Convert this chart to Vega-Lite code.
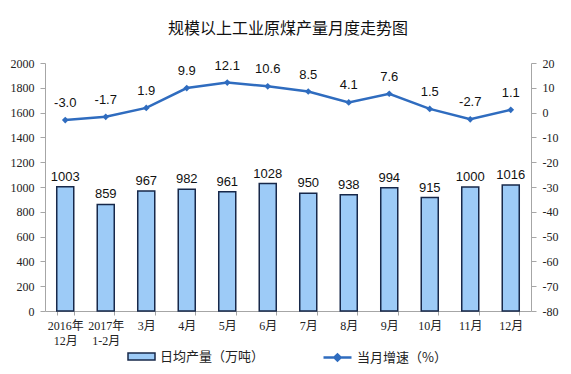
{
  "$schema": "https://vega.github.io/schema/vega-lite/v6.json",
  "width": 486,
  "height": 248,
  "autosize": {"type": "none"},
  "padding": {"left": 45, "top": 63, "right": 40, "bottom": 63},
  "background": "white",
  "title": {
    "text": "规模以上工业原煤产量月度走势图",
    "font": "Noto Sans CJK SC",
    "fontSize": 16,
    "fontWeight": "normal",
    "color": "#111111",
    "anchor": "middle",
    "offset": 20
  },
  "config": {
    "view": {"stroke": null},
    "axis": {
      "grid": false,
      "domainColor": "#a6a6a6",
      "tickColor": "#a6a6a6",
      "labelFont": "Liberation Serif",
      "labelFontSize": 12,
      "labelColor": "#222222",
      "titleFontSize": 0
    }
  },
  "data": {
    "values": [
      {"month": "2016年|12月", "output": 1003, "growth": -3.0},
      {"month": "2017年|1-2月", "output": 859, "growth": -1.7},
      {"month": "3月", "output": 967, "growth": 1.9},
      {"month": "4月", "output": 982, "growth": 9.9},
      {"month": "5月", "output": 961, "growth": 12.1},
      {"month": "6月", "output": 1028, "growth": 10.6},
      {"month": "7月", "output": 950, "growth": 8.5},
      {"month": "8月", "output": 938, "growth": 4.1},
      {"month": "9月", "output": 994, "growth": 7.6},
      {"month": "10月", "output": 915, "growth": 1.5},
      {"month": "11月", "output": 1000, "growth": -2.7},
      {"month": "12月", "output": 1016, "growth": 1.1}
    ]
  },
  "encoding": {
    "x": {
      "field": "month",
      "type": "nominal",
      "sort": null,
      "scale": {"paddingInner": 0.58, "paddingOuter": 0.29},
      "axis": {
        "title": null,
        "labelAngle": 0,
        "labelExpr": "split(datum.label, '|')",
        "labelLineHeight": 15,
        "labelPadding": 5,
        "tickBand": "extent",
        "tickSize": 4,
        "labelFont": "Liberation Serif, Noto Sans CJK SC"
      }
    }
  },
  "layer": [
    {
      "mark": {"type": "bar", "stroke": "#17284a", "strokeWidth": 1.5},
      "encoding": {
        "y": {
          "field": "output",
          "type": "quantitative",
          "scale": {"domain": [0, 2000], "nice": false},
          "axis": {"title": null, "values": [0,200,400,600,800,1000,1200,1400,1600,1800,2000], "format": "d", "tickSize": 5, "labelPadding": 6}
        },
        "fill": {
          "datum": "日均产量（万吨）",
          "type": "nominal",
          "scale": {"range": ["#9dcbf7"]},
          "legend": {
            "title": null,
            "orient": "none",
            "legendX": 82,
            "legendY": 279,
            "symbolType": "M-1,-0.26H1V0.26H-1Z",
            "symbolSize": 729,
            "symbolStrokeColor": "#17284a",
            "symbolStrokeWidth": 1.5,
            "labelFont": "Noto Sans CJK SC",
            "labelFontSize": 13,
            "labelColor": "#222222"
          }
        }
      }
    },
    {
      "mark": {"type": "text", "baseline": "bottom", "dy": -3, "font": "Liberation Sans", "fontSize": 13, "color": "#111111"},
      "encoding": {
        "y": {"field": "output", "type": "quantitative", "scale": {"domain": [0, 2000], "nice": false}, "axis": null},
        "text": {"field": "output", "type": "quantitative", "format": "d"}
      }
    },
    {
      "mark": {"type": "line", "strokeWidth": 2.5},
      "encoding": {
        "y": {
          "field": "growth",
          "type": "quantitative",
          "scale": {"domain": [-80, 20], "nice": false},
          "axis": {"title": null, "orient": "right", "values": [-80,-70,-60,-50,-40,-30,-20,-10,0,10,20], "labelExpr": "replace(datum.label, '\u2212', '-')", "tickSize": 5, "labelPadding": 6}
        },
        "stroke": {
          "datum": "当月增速（%）",
          "type": "nominal",
          "scale": {"range": ["#2f6cbf"]},
          "legend": {
            "title": null,
            "orient": "none",
            "legendX": 277,
            "legendY": 279,
            "symbolType": "M-1,0H1M-0.22,0L0,-0.22L0.22,0L0,0.22Z",
            "symbolSize": 784,
            "symbolStrokeWidth": 2.5,
            "symbolFillColor": "#2f6cbf",
            "labelFont": "Noto Sans CJK SC",
            "labelFontSize": 13,
            "labelColor": "#222222"
          }
        }
      }
    },
    {
      "mark": {"type": "point", "shape": "diamond", "filled": true, "size": 45, "color": "#2f6cbf", "opacity": 1},
      "encoding": {
        "y": {"field": "growth", "type": "quantitative", "scale": {"domain": [-80, 20], "nice": false}, "axis": null}
      }
    },
    {
      "mark": {"type": "text", "baseline": "bottom", "dy": -10, "font": "Liberation Sans", "fontSize": 13, "color": "#111111", "text": {"expr": "replace(format(datum.growth, '.1f'), '\u2212', '-')"}},
      "encoding": {
        "y": {"field": "growth", "type": "quantitative", "scale": {"domain": [-80, 20], "nice": false}, "axis": null}
      }
    }
  ],
  "resolve": {"scale": {"y": "independent"}}
}
